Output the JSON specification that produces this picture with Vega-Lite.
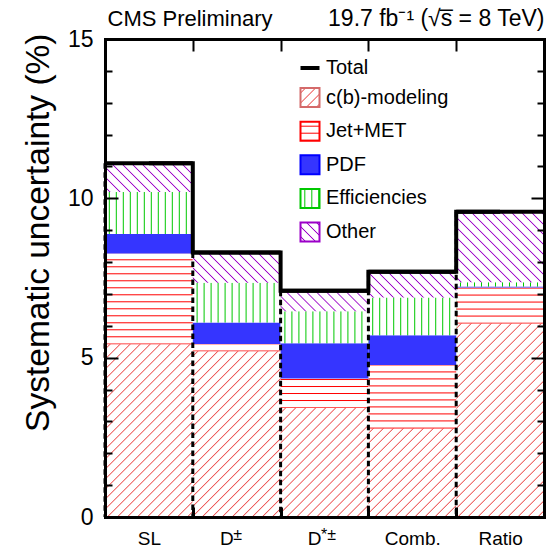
{
  "$schema": "https://vega.github.io/schema/vega-lite/v6.json",
  "width": 439,
  "height": 478,
  "autosize": "none",
  "padding": {"left": 105, "top": 39, "right": 5, "bottom": 31},
  "background": "white",
  "config": {
    "view": {"stroke": null},
    "font": "Liberation Sans",
    "axis": {"labelFont": "Liberation Sans", "titleFont": "Liberation Sans", "labelColor": "black", "titleColor": "black", "tickColor": "black", "domainColor": "black", "grid": false, "titleFontWeight": "normal"}
  },
  "params": [
    {"name": "jetStops", "value": [
      {"offset": 0, "color": "#ff0000"}, {"offset": 0.0153, "color": "#ffffff"},
      {"offset": 0.0663, "color": "#ffffff"}, {"offset": 0.0765, "color": "#ff0000"}, {"offset": 0.0867, "color": "#ffffff"},
      {"offset": 0.1378, "color": "#ffffff"}, {"offset": 0.1480, "color": "#ff0000"}, {"offset": 0.1582, "color": "#ffffff"},
      {"offset": 0.2092, "color": "#ffffff"}, {"offset": 0.2194, "color": "#ff0000"}, {"offset": 0.2296, "color": "#ffffff"},
      {"offset": 0.2806, "color": "#ffffff"}, {"offset": 0.2908, "color": "#ff0000"}, {"offset": 0.3010, "color": "#ffffff"},
      {"offset": 0.3520, "color": "#ffffff"}, {"offset": 0.3622, "color": "#ff0000"}, {"offset": 0.3724, "color": "#ffffff"},
      {"offset": 0.4235, "color": "#ffffff"}, {"offset": 0.4337, "color": "#ff0000"}, {"offset": 0.4439, "color": "#ffffff"},
      {"offset": 0.4949, "color": "#ffffff"}, {"offset": 0.5051, "color": "#ff0000"}, {"offset": 0.5153, "color": "#ffffff"},
      {"offset": 0.5663, "color": "#ffffff"}, {"offset": 0.5765, "color": "#ff0000"}, {"offset": 0.5867, "color": "#ffffff"},
      {"offset": 0.6378, "color": "#ffffff"}, {"offset": 0.6480, "color": "#ff0000"}, {"offset": 0.6582, "color": "#ffffff"},
      {"offset": 0.7092, "color": "#ffffff"}, {"offset": 0.7194, "color": "#ff0000"}, {"offset": 0.7296, "color": "#ffffff"},
      {"offset": 0.7806, "color": "#ffffff"}, {"offset": 0.7908, "color": "#ff0000"}, {"offset": 0.8010, "color": "#ffffff"},
      {"offset": 0.8520, "color": "#ffffff"}, {"offset": 0.8622, "color": "#ff0000"}, {"offset": 0.8724, "color": "#ffffff"},
      {"offset": 0.9235, "color": "#ffffff"}, {"offset": 0.9337, "color": "#ff0000"}, {"offset": 0.9439, "color": "#ffffff"},
      {"offset": 1, "color": "#ffffff"}
    ]},
    {"name": "effStops", "value": [
      {"offset": 0, "color": "#ffffff"},
      {"offset": 0.0363, "color": "#ffffff"}, {"offset": 0.0473, "color": "#00c800"}, {"offset": 0.0583, "color": "#ffffff"},
      {"offset": 0.1132, "color": "#ffffff"}, {"offset": 0.1242, "color": "#00c800"}, {"offset": 0.1352, "color": "#ffffff"},
      {"offset": 0.1901, "color": "#ffffff"}, {"offset": 0.2011, "color": "#00c800"}, {"offset": 0.2121, "color": "#ffffff"},
      {"offset": 0.2670, "color": "#ffffff"}, {"offset": 0.2780, "color": "#00c800"}, {"offset": 0.2890, "color": "#ffffff"},
      {"offset": 0.3439, "color": "#ffffff"}, {"offset": 0.3549, "color": "#00c800"}, {"offset": 0.3659, "color": "#ffffff"},
      {"offset": 0.4209, "color": "#ffffff"}, {"offset": 0.4319, "color": "#00c800"}, {"offset": 0.4429, "color": "#ffffff"},
      {"offset": 0.4978, "color": "#ffffff"}, {"offset": 0.5088, "color": "#00c800"}, {"offset": 0.5198, "color": "#ffffff"},
      {"offset": 0.5747, "color": "#ffffff"}, {"offset": 0.5857, "color": "#00c800"}, {"offset": 0.5967, "color": "#ffffff"},
      {"offset": 0.6516, "color": "#ffffff"}, {"offset": 0.6626, "color": "#00c800"}, {"offset": 0.6736, "color": "#ffffff"},
      {"offset": 0.7286, "color": "#ffffff"}, {"offset": 0.7396, "color": "#00c800"}, {"offset": 0.7506, "color": "#ffffff"},
      {"offset": 0.8055, "color": "#ffffff"}, {"offset": 0.8165, "color": "#00c800"}, {"offset": 0.8275, "color": "#ffffff"},
      {"offset": 0.8824, "color": "#ffffff"}, {"offset": 0.8934, "color": "#00c800"}, {"offset": 0.9044, "color": "#ffffff"},
      {"offset": 0.9593, "color": "#ffffff"}, {"offset": 0.9703, "color": "#00c800"}, {"offset": 0.9813, "color": "#ffffff"},
      {"offset": 1, "color": "#ffffff"}
    ]},
    {"name": "cbStops", "value": [
      {"offset": 0, "color": "#ffffff"},
      {"offset": 0.0131, "color": "#ffffff"}, {"offset": 0.0172, "color": "#ec4e4e"}, {"offset": 0.0213, "color": "#ffffff"},
      {"offset": 0.0476, "color": "#ffffff"}, {"offset": 0.0517, "color": "#ec4e4e"}, {"offset": 0.0558, "color": "#ffffff"},
      {"offset": 0.0821, "color": "#ffffff"}, {"offset": 0.0862, "color": "#ec4e4e"}, {"offset": 0.0903, "color": "#ffffff"},
      {"offset": 0.1166, "color": "#ffffff"}, {"offset": 0.1207, "color": "#ec4e4e"}, {"offset": 0.1248, "color": "#ffffff"},
      {"offset": 0.1511, "color": "#ffffff"}, {"offset": 0.1552, "color": "#ec4e4e"}, {"offset": 0.1593, "color": "#ffffff"},
      {"offset": 0.1856, "color": "#ffffff"}, {"offset": 0.1897, "color": "#ec4e4e"}, {"offset": 0.1938, "color": "#ffffff"},
      {"offset": 0.2200, "color": "#ffffff"}, {"offset": 0.2241, "color": "#ec4e4e"}, {"offset": 0.2282, "color": "#ffffff"},
      {"offset": 0.2545, "color": "#ffffff"}, {"offset": 0.2586, "color": "#ec4e4e"}, {"offset": 0.2627, "color": "#ffffff"},
      {"offset": 0.2890, "color": "#ffffff"}, {"offset": 0.2931, "color": "#ec4e4e"}, {"offset": 0.2972, "color": "#ffffff"},
      {"offset": 0.3235, "color": "#ffffff"}, {"offset": 0.3276, "color": "#ec4e4e"}, {"offset": 0.3317, "color": "#ffffff"},
      {"offset": 0.3580, "color": "#ffffff"}, {"offset": 0.3621, "color": "#ec4e4e"}, {"offset": 0.3662, "color": "#ffffff"},
      {"offset": 0.3925, "color": "#ffffff"}, {"offset": 0.3966, "color": "#ec4e4e"}, {"offset": 0.4007, "color": "#ffffff"},
      {"offset": 0.4269, "color": "#ffffff"}, {"offset": 0.4310, "color": "#ec4e4e"}, {"offset": 0.4351, "color": "#ffffff"},
      {"offset": 0.4614, "color": "#ffffff"}, {"offset": 0.4655, "color": "#ec4e4e"}, {"offset": 0.4696, "color": "#ffffff"},
      {"offset": 0.4959, "color": "#ffffff"}, {"offset": 0.5000, "color": "#ec4e4e"}, {"offset": 0.5041, "color": "#ffffff"},
      {"offset": 0.5304, "color": "#ffffff"}, {"offset": 0.5345, "color": "#ec4e4e"}, {"offset": 0.5386, "color": "#ffffff"},
      {"offset": 0.5649, "color": "#ffffff"}, {"offset": 0.5690, "color": "#ec4e4e"}, {"offset": 0.5731, "color": "#ffffff"},
      {"offset": 0.5993, "color": "#ffffff"}, {"offset": 0.6034, "color": "#ec4e4e"}, {"offset": 0.6075, "color": "#ffffff"},
      {"offset": 0.6338, "color": "#ffffff"}, {"offset": 0.6379, "color": "#ec4e4e"}, {"offset": 0.6420, "color": "#ffffff"},
      {"offset": 0.6683, "color": "#ffffff"}, {"offset": 0.6724, "color": "#ec4e4e"}, {"offset": 0.6765, "color": "#ffffff"},
      {"offset": 0.7028, "color": "#ffffff"}, {"offset": 0.7069, "color": "#ec4e4e"}, {"offset": 0.7110, "color": "#ffffff"},
      {"offset": 0.7373, "color": "#ffffff"}, {"offset": 0.7414, "color": "#ec4e4e"}, {"offset": 0.7455, "color": "#ffffff"},
      {"offset": 0.7718, "color": "#ffffff"}, {"offset": 0.7759, "color": "#ec4e4e"}, {"offset": 0.7800, "color": "#ffffff"},
      {"offset": 0.8062, "color": "#ffffff"}, {"offset": 0.8103, "color": "#ec4e4e"}, {"offset": 0.8144, "color": "#ffffff"},
      {"offset": 0.8407, "color": "#ffffff"}, {"offset": 0.8448, "color": "#ec4e4e"}, {"offset": 0.8489, "color": "#ffffff"},
      {"offset": 0.8752, "color": "#ffffff"}, {"offset": 0.8793, "color": "#ec4e4e"}, {"offset": 0.8834, "color": "#ffffff"},
      {"offset": 0.9097, "color": "#ffffff"}, {"offset": 0.9138, "color": "#ec4e4e"}, {"offset": 0.9179, "color": "#ffffff"},
      {"offset": 0.9442, "color": "#ffffff"}, {"offset": 0.9483, "color": "#ec4e4e"}, {"offset": 0.9524, "color": "#ffffff"},
      {"offset": 0.9787, "color": "#ffffff"}, {"offset": 0.9828, "color": "#ec4e4e"}, {"offset": 0.9869, "color": "#ffffff"},
      {"offset": 1, "color": "#ffffff"}
    ]},
    {"name": "othStops", "value": [
      {"offset": 0, "color": "#ffffff"},
      {"offset": 0.0238, "color": "#ffffff"}, {"offset": 0.0313, "color": "#9b00c8"}, {"offset": 0.0388, "color": "#ffffff"},
      {"offset": 0.0863, "color": "#ffffff"}, {"offset": 0.0938, "color": "#9b00c8"}, {"offset": 0.1013, "color": "#ffffff"},
      {"offset": 0.1488, "color": "#ffffff"}, {"offset": 0.1563, "color": "#9b00c8"}, {"offset": 0.1638, "color": "#ffffff"},
      {"offset": 0.2113, "color": "#ffffff"}, {"offset": 0.2188, "color": "#9b00c8"}, {"offset": 0.2263, "color": "#ffffff"},
      {"offset": 0.2738, "color": "#ffffff"}, {"offset": 0.2813, "color": "#9b00c8"}, {"offset": 0.2888, "color": "#ffffff"},
      {"offset": 0.3363, "color": "#ffffff"}, {"offset": 0.3438, "color": "#9b00c8"}, {"offset": 0.3513, "color": "#ffffff"},
      {"offset": 0.3988, "color": "#ffffff"}, {"offset": 0.4063, "color": "#9b00c8"}, {"offset": 0.4138, "color": "#ffffff"},
      {"offset": 0.4613, "color": "#ffffff"}, {"offset": 0.4688, "color": "#9b00c8"}, {"offset": 0.4763, "color": "#ffffff"},
      {"offset": 0.5238, "color": "#ffffff"}, {"offset": 0.5313, "color": "#9b00c8"}, {"offset": 0.5388, "color": "#ffffff"},
      {"offset": 0.5863, "color": "#ffffff"}, {"offset": 0.5938, "color": "#9b00c8"}, {"offset": 0.6013, "color": "#ffffff"},
      {"offset": 0.6488, "color": "#ffffff"}, {"offset": 0.6563, "color": "#9b00c8"}, {"offset": 0.6638, "color": "#ffffff"},
      {"offset": 0.7113, "color": "#ffffff"}, {"offset": 0.7188, "color": "#9b00c8"}, {"offset": 0.7263, "color": "#ffffff"},
      {"offset": 0.7738, "color": "#ffffff"}, {"offset": 0.7813, "color": "#9b00c8"}, {"offset": 0.7888, "color": "#ffffff"},
      {"offset": 0.8363, "color": "#ffffff"}, {"offset": 0.8438, "color": "#9b00c8"}, {"offset": 0.8513, "color": "#ffffff"},
      {"offset": 0.8988, "color": "#ffffff"}, {"offset": 0.9063, "color": "#9b00c8"}, {"offset": 0.9138, "color": "#ffffff"},
      {"offset": 0.9613, "color": "#ffffff"}, {"offset": 0.9688, "color": "#9b00c8"}, {"offset": 0.9763, "color": "#ffffff"},
      {"offset": 1, "color": "#ffffff"}
    ]}
  ],
  "datasets": {
    "bands": [
      {"bin": "SL", "source": "c(b)-modeling", "value": 5.42},
      {"bin": "SL", "source": "Jet+MET", "value": 2.85},
      {"bin": "SL", "source": "PDF", "value": 0.61},
      {"bin": "SL", "source": "Efficiencies", "value": 1.32},
      {"bin": "SL", "source": "Other", "value": 0.9},
      {"bin": "D±", "source": "c(b)-modeling", "value": 5.2},
      {"bin": "D±", "source": "Jet+MET", "value": 0.23},
      {"bin": "D±", "source": "PDF", "value": 0.67},
      {"bin": "D±", "source": "Efficiencies", "value": 1.25},
      {"bin": "D±", "source": "Other", "value": 0.95},
      {"bin": "D*±", "source": "c(b)-modeling", "value": 3.42},
      {"bin": "D*±", "source": "Jet+MET", "value": 0.93},
      {"bin": "D*±", "source": "PDF", "value": 1.1},
      {"bin": "D*±", "source": "Efficiencies", "value": 1.01},
      {"bin": "D*±", "source": "Other", "value": 0.64},
      {"bin": "Comb.", "source": "c(b)-modeling", "value": 2.78},
      {"bin": "Comb.", "source": "Jet+MET", "value": 1.99},
      {"bin": "Comb.", "source": "PDF", "value": 0.93},
      {"bin": "Comb.", "source": "Efficiencies", "value": 1.19},
      {"bin": "Comb.", "source": "Other", "value": 0.81},
      {"bin": "Ratio", "source": "c(b)-modeling", "value": 6.07},
      {"bin": "Ratio", "source": "Jet+MET", "value": 1.13},
      {"bin": "Ratio", "source": "PDF", "value": 0.03},
      {"bin": "Ratio", "source": "Efficiencies", "value": 0.14},
      {"bin": "Ratio", "source": "Other", "value": 2.21}
    ],
    "totals": [
      {"bin": "SL", "total": 11.1},
      {"bin": "D±", "total": 8.3},
      {"bin": "D*±", "total": 7.1},
      {"bin": "Comb.", "total": 7.7},
      {"bin": "Ratio", "total": 9.58}
    ]
  },
  "resolve": {"axis": {"x": "independent", "y": "independent"}},
  "layer": [
    {
      "data": {"name": "bands"},
      "transform": [
        {"stack": "value", "groupby": ["bin"], "as": ["lo", "hi"]},
        {"filter": "datum.source === 'c(b)-modeling'"}
      ],
      "mark": {"type": "rect", "strokeWidth": 0},
      "encoding": {
        "x": {"field": "bin", "type": "nominal", "sort": null,
          "scale": {"domain": ["SL", "D±", "D*±", "Comb.", "Ratio"], "paddingInner": 0, "paddingOuter": 0},
          "axis": {"orient": "bottom", "title": null, "labelExpr": "datum.label === 'D±' || datum.label === 'D*±' ? '' : datum.label", "labelFontSize": 19, "labelAngle": 0, "labelPadding": 22, "labelOverlap": false,
            "tickBand": "extent", "tickSize": -10, "tickWidth": 3, "domainWidth": 3, "domainCap": "square", "zindex": 1}},
        "y": {"field": "lo", "type": "quantitative", "scale": {"domain": [0, 15], "nice": false},
          "axis": {"orient": "left", "values": [0, 5, 10, 15], "title": "Systematic uncertainty (%)", "titleFontSize": 33.5, "titleX": -57, "titleY": -6, "titleAngle": -90, "titleAlign": "right", "titleBaseline": "alphabetic",
            "labelFontSize": 23, "labelPadding": 25, "labelFlush": false, "labelOverlap": false, "tickSize": -13, "tickWidth": 2, "domainWidth": 3, "domainCap": "square", "zindex": 1}},
        "y2": {"field": "hi"},
        "fill": {"value": {"expr": "{gradient: 'linear', x1: 0, y1: 0, x2: 290 * bandwidth('x') / (pow(bandwidth('x'), 2) + pow(scale('y', datum.lo) - scale('y', datum.hi), 2)), y2: 290 * (scale('y', datum.lo) - scale('y', datum.hi)) / (pow(bandwidth('x'), 2) + pow(scale('y', datum.lo) - scale('y', datum.hi), 2)), stops: cbStops}"}},
        "stroke": {"field": "source", "type": "nominal",
          "scale": {"domain": ["Total", "c(b)-modeling", "Jet+MET", "PDF", "Efficiencies", "Other"], "range": ["#000000", "#d46a6a", "#ff0000", "#0000ff", "#00c800", "#9b00c8"]},
          "legend": {"orient": "none", "legendX": 195, "legendY": 19, "title": null, "direction": "vertical", "padding": 0,
            "symbolType": "square", "symbolSize": 361, "symbolStrokeWidth": 2,
            "labelFont": "Liberation Sans", "labelFontSize": 20, "labelColor": "black", "labelOffset": 6, "labelLimit": 0, "rowPadding": 5.6,
            "encoding": {"symbols": {
              "shape": {"value": {"expr": "datum.value === 'Total' ? 'stroke' : 'square'"}},
              "strokeWidth": {"value": {"expr": "datum.value === 'Total' ? 4 : 2"}},
              "fill": {"value": {"expr": "datum.value === 'c(b)-modeling' ? {gradient: 'linear', x1: 0, y1: 0, x2: 7.63, y2: 7.63, stops: cbStops} : datum.value === 'Jet+MET' ? {gradient: 'linear', x1: 0, y1: 1, x2: 0, y2: -4.16, stops: jetStops} : datum.value === 'PDF' ? '#3535ff' : datum.value === 'Efficiencies' ? {gradient: 'linear', x1: 0, y1: 0, x2: 4.79, y2: 0, stops: effStops} : datum.value === 'Other' ? {gradient: 'linear', x1: 0, y1: 1, x2: 4.21, y2: -3.21, stops: othStops} : 'transparent'"}}
            }}}
        }
      }
    },
    {
      "data": {"name": "bands"},
      "transform": [
        {"stack": "value", "groupby": ["bin"], "as": ["lo", "hi"]},
        {"filter": "datum.source === 'Jet+MET'"}
      ],
      "mark": {"type": "rect", "strokeWidth": 0},
      "encoding": {
        "x": {"field": "bin", "type": "nominal", "sort": null,
          "scale": {"domain": ["SL", "D±", "D*±", "Comb.", "Ratio"], "paddingInner": 0, "paddingOuter": 0},
          "axis": {"orient": "top", "labels": false, "title": "19.7 fb⁻¹ (√s̅ = 8 TeV)", "titleFontSize": 23, "titleX": 439, "titleY": -14, "titleAngle": 0, "titleAlign": "right", "titleBaseline": "alphabetic",
            "tickBand": "extent", "tickSize": -12, "tickWidth": 2, "domainWidth": 3, "domainCap": "square", "zindex": 1}},
        "y": {"field": "lo", "type": "quantitative", "scale": {"domain": [0, 15], "nice": false},
          "axis": {"orient": "right", "values": [0, 5, 10, 15], "labels": false, "title": null, "tickSize": -13, "tickWidth": 2, "domainWidth": 3, "domainCap": "square", "zindex": 1}},
        "y2": {"field": "hi"},
        "fill": {"value": {"expr": "{gradient: 'linear', x1: 0, y1: 1, x2: 0, y2: 1 - 98 / (scale('y', datum.lo) - scale('y', datum.hi)), stops: jetStops}"}}
      }
    },
    {
      "data": {"name": "bands"},
      "transform": [
        {"stack": "value", "groupby": ["bin"], "as": ["lo", "hi"]},
        {"filter": "datum.source === 'PDF'"}
      ],
      "mark": {"type": "rect", "strokeWidth": 0, "fill": "#3535ff"},
      "encoding": {
        "x": {"field": "bin", "type": "nominal", "sort": null,
          "scale": {"domain": ["SL", "D±", "D*±", "Comb.", "Ratio"], "paddingInner": 0, "paddingOuter": 0},
          "axis": {"orient": "bottom", "title": null, "domain": false, "ticks": false, "labelExpr": "datum.label === 'D±' ? '\u2005D' : datum.label === 'D*±' ? 'D' : ''", "labelFontSize": 19, "labelAlign": "left", "labelAngle": 0, "labelPadding": 12, "labelOffset": -16.8, "labelOverlap": false, "zindex": 1}},
        "y": {"field": "lo", "type": "quantitative", "scale": {"domain": [0, 15], "nice": false},
          "axis": {"orient": "left", "values": [1, 2, 3, 4, 6, 7, 8, 9, 11, 12, 13, 14], "labels": false, "domain": false, "title": null, "tickSize": -7, "tickWidth": 2, "zindex": 1}},
        "y2": {"field": "hi"}
      }
    },
    {
      "data": {"name": "bands"},
      "transform": [
        {"stack": "value", "groupby": ["bin"], "as": ["lo", "hi"]},
        {"filter": "datum.source === 'Efficiencies'"}
      ],
      "mark": {"type": "rect", "strokeWidth": 0},
      "encoding": {
        "x": {"field": "bin", "type": "nominal", "sort": null,
          "scale": {"domain": ["SL", "D±", "D*±", "Comb.", "Ratio"], "paddingInner": 0, "paddingOuter": 0},
          "axis": {"orient": "bottom", "title": null, "domain": false, "ticks": false, "labelExpr": "datum.label === 'D±' ? '\u2005±' : datum.label === 'D*±' ? '*±' : ''", "labelFontSize": 16, "labelAlign": "left", "labelAngle": 0, "labelPadding": 9, "labelOffset": -3.5, "labelOverlap": false, "zindex": 1}},
        "y": {"field": "lo", "type": "quantitative", "scale": {"domain": [0, 15], "nice": false},
          "axis": {"orient": "right", "values": [1, 2, 3, 4, 6, 7, 8, 9, 11, 12, 13, 14], "labels": false, "domain": false, "title": null, "tickSize": -7, "tickWidth": 2, "zindex": 1}},
        "y2": {"field": "hi"},
        "fill": {"value": {"expr": "{gradient: 'linear', x1: 0, y1: 0, x2: 91 / bandwidth('x'), y2: 0, stops: effStops}"}}
      }
    },
    {
      "data": {"name": "bands"},
      "transform": [
        {"stack": "value", "groupby": ["bin"], "as": ["lo", "hi"]},
        {"filter": "datum.source === 'Other'"}
      ],
      "mark": {"type": "rect", "strokeWidth": 0},
      "encoding": {
        "x": {"field": "bin", "type": "nominal", "sort": null,
          "scale": {"domain": ["SL", "D±", "D*±", "Comb.", "Ratio"], "paddingInner": 0, "paddingOuter": 0},
          "axis": {"orient": "top", "labels": false, "ticks": false, "domain": false, "title": "CMS Preliminary", "titleFontSize": 22, "titleX": 2, "titleY": -14, "titleAngle": 0, "titleAlign": "left", "titleBaseline": "alphabetic", "zindex": 1}},
        "y": {"field": "lo", "type": "quantitative", "scale": {"domain": [0, 15], "nice": false}, "axis": null},
        "y2": {"field": "hi"},
        "fill": {"value": {"expr": "{gradient: 'linear', x1: 0, y1: 1, x2: 160 * bandwidth('x') / (pow(bandwidth('x'), 2) + pow(scale('y', datum.lo) - scale('y', datum.hi), 2)), y2: 1 - 160 * (scale('y', datum.lo) - scale('y', datum.hi)) / (pow(bandwidth('x'), 2) + pow(scale('y', datum.lo) - scale('y', datum.hi), 2)), stops: othStops}"}}
      }
    },
    {
      "data": {"name": "totals"},
      "mark": {"type": "rule", "color": "black", "strokeWidth": 3, "strokeDash": [5.5, 3.5]},
      "encoding": {
        "x": {"field": "bin", "type": "nominal", "sort": null, "bandPosition": 0,
          "scale": {"domain": ["SL", "D±", "D*±", "Comb.", "Ratio"], "paddingInner": 0, "paddingOuter": 0},
          "axis": null},
        "y": {"field": "total", "type": "quantitative", "scale": {"domain": [0, 15], "nice": false}, "axis": null}
      }
    },
    {
      "data": {"name": "totals"},
      "mark": {"type": "rect", "fill": null, "stroke": "black", "strokeWidth": 4},
      "encoding": {
        "x": {"field": "bin", "type": "nominal", "sort": null,
          "scale": {"domain": ["SL", "D±", "D*±", "Comb.", "Ratio"], "paddingInner": 0, "paddingOuter": 0},
          "axis": null},
        "y": {"field": "total", "type": "quantitative", "scale": {"domain": [0, 15], "nice": false}, "axis": null},
        "y2": {"field": "total"}
      }
    },
    {
      "data": {"name": "totals"},
      "mark": {"type": "line", "interpolate": "step", "color": "black", "strokeWidth": 4, "strokeJoin": "miter"},
      "encoding": {
        "x": {"field": "bin", "type": "nominal", "sort": null,
          "scale": {"domain": ["SL", "D±", "D*±", "Comb.", "Ratio"], "paddingInner": 0, "paddingOuter": 0},
          "axis": null},
        "y": {"field": "total", "type": "quantitative", "scale": {"domain": [0, 15], "nice": false}, "axis": null},
        "order": {"value": null}
      }
    }
  ]
}
